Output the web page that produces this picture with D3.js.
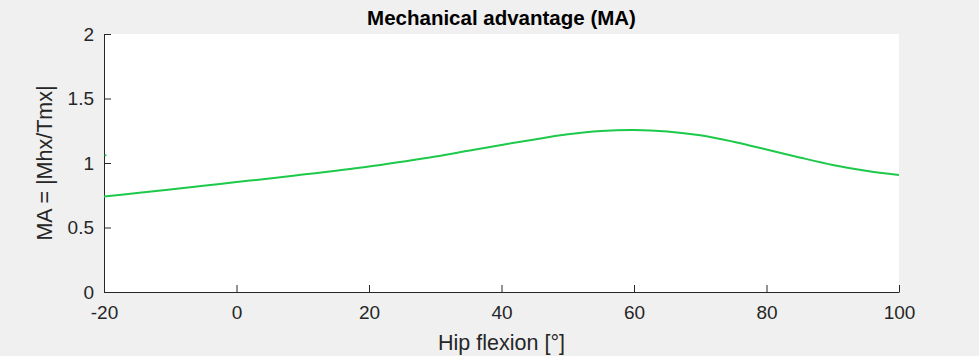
<!DOCTYPE html>
<html>
<head>
<meta charset="utf-8">
<script src="https://cdn.jsdelivr.net/npm/d3@7"></script>
<style>
  html, body { margin: 0; padding: 0; background: #f0f0f0; }
  svg { display: block; }
  text { font-family: "Liberation Sans", Arial, Helvetica, sans-serif; }
</style>
</head>
<body>
<svg id="chart" width="979" height="356"></svg>
<script>
// Hip flexion angle [deg] and mechanical advantage |Mhx/Tmx|
const hipFlexion = [-20, -15, -10, -5, 0, 5, 10, 15, 20, 25, 30, 35, 40, 45, 50, 55, 60, 65, 70, 75, 80, 85, 90, 95, 100];
const mechAdvantage = [0.740, 0.768, 0.795, 0.823, 0.852, 0.880, 0.910, 0.940, 0.972, 1.010, 1.050, 1.095, 1.140, 1.183, 1.222, 1.248, 1.256, 1.245, 1.215, 1.165, 1.105, 1.043, 0.985, 0.940, 0.907];
// lone sample sitting on the left edge
const edgeX = [-20];
const edgeY = [1.06];

const xTicks = [-20, 0, 20, 40, 60, 80, 100];
const yTicks = [0, 0.5, 1, 1.5, 2];

const svg = d3.select("#chart");
const plot = { left: 104, right: 899, top: 34, bottom: 292 };
const axisColor = "#262626";
const lineColor = "#1dc94a";

const x = d3.scaleLinear().domain([-20, 100]).range([plot.left, plot.right]);
const y = d3.scaleLinear().domain([0, 2]).range([plot.bottom, plot.top]);

// white axes area
svg.append("rect")
  .attr("x", plot.left).attr("y", plot.top)
  .attr("width", plot.right - plot.left).attr("height", plot.bottom - plot.top)
  .attr("fill", "#ffffff");

// x axis (ticks point inward)
const xAxis = svg.append("g")
  .attr("transform", `translate(0,${plot.bottom})`)
  .call(d3.axisBottom(x).tickValues(xTicks).tickSizeInner(-7).tickSizeOuter(0).tickPadding(14)
    .tickFormat(d => String(d)));
xAxis.select(".domain").attr("stroke", axisColor).attr("stroke-width", 1);
xAxis.selectAll(".tick line").attr("stroke", axisColor);
xAxis.selectAll(".tick text").attr("font-size", 19).attr("fill", axisColor)
  .attr("font-family", "Liberation Sans, Arial, sans-serif");

// y axis
const yAxis = svg.append("g")
  .attr("transform", `translate(${plot.left},0)`)
  .call(d3.axisLeft(y).tickValues(yTicks).tickSizeInner(-7).tickSizeOuter(0).tickPadding(10)
    .tickFormat(d => String(d)));
yAxis.select(".domain").attr("stroke", axisColor).attr("stroke-width", 1);
yAxis.selectAll(".tick line").attr("stroke", axisColor);
yAxis.selectAll(".tick text").attr("font-size", 19).attr("fill", axisColor)
  .attr("font-family", "Liberation Sans, Arial, sans-serif");

// clip for data
svg.append("clipPath").attr("id", "plotClip")
  .append("rect")
  .attr("x", plot.left).attr("y", plot.top - 2)
  .attr("width", plot.right - plot.left + 1).attr("height", plot.bottom - plot.top + 4);

const data = hipFlexion.map((h, i) => ({ x: h, y: mechAdvantage[i] }));
const line = d3.line()
  .x(d => x(d.x))
  .y(d => y(d.y))
  .curve(d3.curveCatmullRom.alpha(0.5));

svg.append("path")
  .datum(data)
  .attr("clip-path", "url(#plotClip)")
  .attr("fill", "none")
  .attr("stroke", lineColor)
  .attr("stroke-width", 2)
  .attr("d", line);

svg.selectAll("circle.edge")
  .data(edgeX.map((v, i) => ({ x: v, y: edgeY[i] })))
  .enter().append("circle")
  .attr("class", "edge")
  .attr("cx", d => x(d.x) + 1.5)
  .attr("cy", d => y(d.y))
  .attr("r", 1.1)
  .attr("fill", lineColor);

// title
svg.append("text")
  .attr("x", (plot.left + plot.right) / 2)
  .attr("y", 25)
  .attr("text-anchor", "middle")
  .attr("font-size", 20.5)
  .attr("font-weight", "bold")
  .attr("fill", "#000")
  .text("Mechanical advantage (MA)");

// axis labels
svg.append("text")
  .attr("x", (plot.left + plot.right) / 2)
  .attr("y", 350)
  .attr("text-anchor", "middle")
  .attr("font-size", 21.5)
  .attr("fill", axisColor)
  .text("Hip flexion [°]");

svg.append("text")
  .attr("transform", `translate(52,${(plot.top + plot.bottom) / 2}) rotate(-90)`)
  .attr("text-anchor", "middle")
  .attr("font-size", 21.5)
  .attr("fill", axisColor)
  .text("MA = |Mhx/Tmx|");
</script>
</body>
</html>
